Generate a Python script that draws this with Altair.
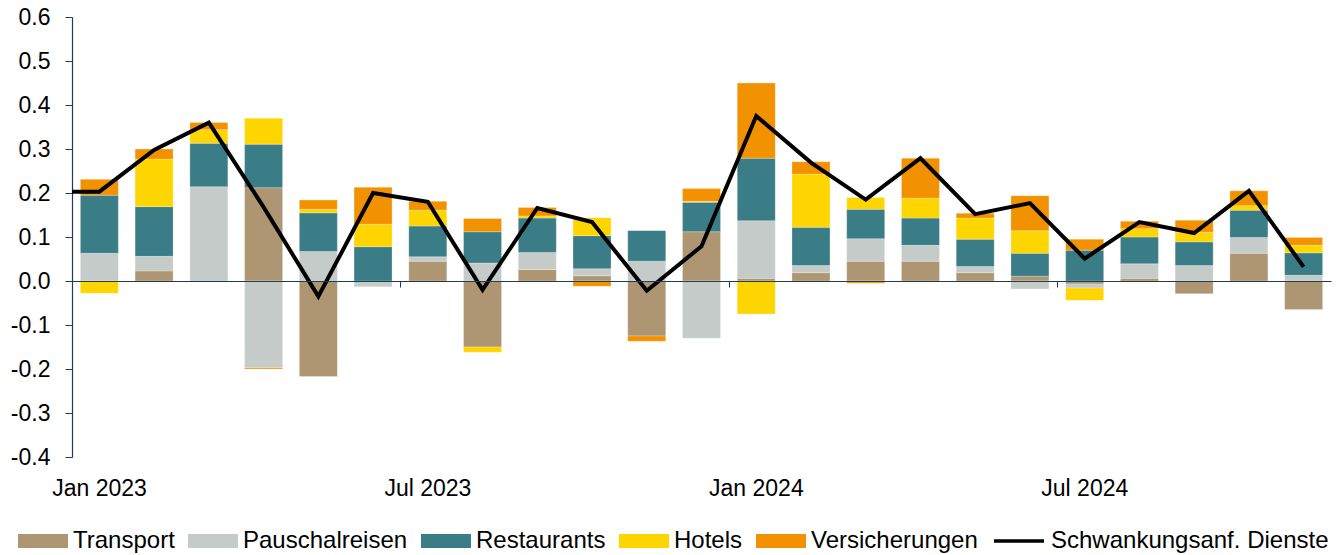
import json
import altair as alt
import pandas as pd

months = ["Jan 2023", "Feb 2023", "Mar 2023", "Apr 2023", "May 2023", "Jun 2023",
          "Jul 2023", "Aug 2023", "Sep 2023", "Oct 2023", "Nov 2023", "Dec 2023",
          "Jan 2024", "Feb 2024", "Mar 2024", "Apr 2024", "May 2024", "Jun 2024",
          "Jul 2024", "Aug 2024", "Sep 2024", "Oct 2024", "Nov 2024"]

series_names = ["Transport", "Pauschalreisen", "Restaurants", "Hotels", "Versicherungen"]
series_colors = ["#ae9672", "#c5cbc9", "#3b7d87", "#ffd500", "#f39200"]

transport = [0.000, 0.023, 0.000, 0.212, -0.217, 0.000, 0.045, -0.150, 0.026, 0.012, -0.125, 0.112,
             0.006, 0.019, 0.045, 0.045, 0.019, 0.011, -0.007, 0.006, -0.029, 0.063, -0.065]
pauschal = [0.063, 0.033, 0.214, -0.197, 0.067, -0.013, 0.010, 0.041, 0.039, 0.016, 0.045, -0.130,
            0.131, 0.016, 0.051, 0.036, 0.014, -0.018, -0.009, 0.033, 0.035, 0.036, 0.013]
restaurants = [0.132, 0.113, 0.099, 0.099, 0.088, 0.078, 0.070, 0.071, 0.078, 0.075, 0.070, 0.067,
               0.142, 0.087, 0.067, 0.062, 0.062, 0.052, 0.070, 0.061, 0.054, 0.062, 0.051]
hotels = [-0.028, 0.108, 0.031, 0.059, 0.008, 0.051, 0.036, -0.012, 0.005, 0.041, 0.000, 0.002,
          -0.075, 0.121, 0.027, 0.045, 0.048, 0.051, -0.028, 0.019, 0.022, 0.010, 0.017]
versicherungen = [0.036, 0.023, 0.016, -0.003, 0.021, 0.084, 0.020, 0.030, 0.019, -0.012, -0.012, 0.029,
                  0.171, 0.028, -0.005, 0.091, 0.011, 0.080, 0.025, 0.017, 0.027, 0.034, 0.018]

line_name = "Schwankungsanf. Dienste"
line_values = [0.203, 0.298, 0.360, 0.168, -0.035, 0.200, 0.180, -0.020, 0.166, 0.134, -0.022, 0.079,
               0.375, 0.269, 0.185, 0.279, 0.152, 0.177, 0.051, 0.134, 0.109, 0.205, 0.032]
line_start_value = 0.203  # value where the line meets the left axis

x_tick_labels = ["Jan 2023", "Jul 2023", "Jan 2024", "Jul 2024"]
y_ticks = [-0.4, -0.3, -0.2, -0.1, 0.0, 0.1, 0.2, 0.3, 0.4, 0.5, 0.6]

# ---- build tables ----
all_series = [transport, pauschal, restaurants, hotels, versicherungen]
rows = []
for si, (name, vals) in enumerate(zip(series_names, all_series)):
    for mi, v in enumerate(vals):
        rows.append({"pos": mi, "month": months[mi], "series": name, "order": si, "value": v})
bars_df = pd.DataFrame(rows)

line_df = pd.DataFrame({
    "pos": [-0.5] + list(range(len(months))),
    "value": [line_start_value] + line_values,
    "name": [line_name] * (len(months) + 1),
})

n = len(months)
tick_positions = [months.index(t) - 0.5 for t in x_tick_labels]

FONT = "Liberation Sans"
AXIS_COLOR = "#1f3d4b"

x_scale = alt.Scale(domain=[-0.5, n - 0.5], nice=False, zero=False, padding=0)
y_scale = alt.Scale(domain=[-0.4, 0.6], nice=False)

x_axis = alt.Axis(
    values=tick_positions,
    labelExpr=f"{json.dumps(x_tick_labels)}[round((datum.value + 0.5) / 6)]",
    labelOffset=27,
    labelFlush=False,
    labelOverlap=False,
    labelBound=False,
    offset=-176,
    tickSize=6,
    labelPadding=190,
    grid=False,
    title=None,
    domainColor=AXIS_COLOR,
    tickColor=AXIS_COLOR,
    domainWidth=1.2,
    labelFontSize=23,
    labelFont=FONT,
    labelColor="#000000",
    zindex=1,
)

y_axis = alt.Axis(
    values=y_ticks,
    labelExpr="datum.value < -0.00001 ? '-' + format(-datum.value, '.1f') : format(abs(datum.value), '.1f')",
    tickSize=7,
    labelPadding=15,
    grid=False,
    title=None,
    domainColor=AXIS_COLOR,
    tickColor=AXIS_COLOR,
    domainWidth=1.2,
    labelFontSize=23,
    labelFont=FONT,
    labelColor="#000000",
)

bars = alt.Chart(bars_df).mark_bar(size=38, stroke="white", strokeWidth=0.5, strokeOpacity=0.5).encode(
    x=alt.X("pos:Q", scale=x_scale, axis=x_axis),
    y=alt.Y("value:Q", scale=y_scale, axis=y_axis, stack="zero"),
    color=alt.Color(
        "series:N",
        scale=alt.Scale(domain=series_names, range=series_colors),
        legend=alt.Legend(
            orient="none", legendX=-54, legendY=499, direction="horizontal", columns=5,
            title=None, symbolType="M-1,-0.28L1,-0.28L1,0.28L-1,0.28Z", symbolSize=2500,
            symbolStrokeWidth=0, labelFontSize=24, labelFont=FONT, labelColor="#000000",
            labelOffset=5, columnPadding=13, padding=0, labelLimit=400,
        ),
    ),
    order=alt.Order("order:Q", sort="ascending"),
)

line = alt.Chart(line_df).mark_line(strokeWidth=4).encode(
    x=alt.X("pos:Q", scale=x_scale, axis=x_axis),
    y=alt.Y("value:Q", scale=y_scale, axis=y_axis),
    stroke=alt.Stroke(
        "name:N",
        scale=alt.Scale(domain=[line_name], range=["#000000"]),
        legend=alt.Legend(
            orient="none", legendX=920, legendY=497, title=None, symbolType="stroke",
            symbolSize=2500, symbolStrokeWidth=3.5, labelFontSize=24, labelFont=FONT,
            labelColor="#000000", labelOffset=5, padding=0, labelLimit=400,
        ),
    ),
)

chart = alt.layer(bars, line).properties(
    width=1259,
    height=440,
    autosize=alt.AutoSizeParams(type="none"),
    padding={"left": 72, "top": 17, "right": 11, "bottom": 98},
    background="white",
).configure_view(stroke=None)

chart.save("out.html", embed_options={"renderer": "svg", "actions": False})
